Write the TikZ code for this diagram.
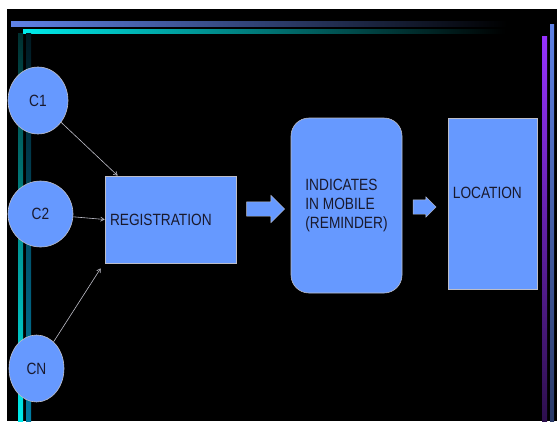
\documentclass[tikz,border=0pt]{standalone}
\usepackage{fontspec}
\setmainfont{Liberation Sans}[FakeStretch=0.84]
\usetikzlibrary{arrows,shapes.geometric,shapes.arrows}

\definecolor{boxblue}{RGB}{102,153,255}
\definecolor{edgegray}{RGB}{190,190,200}
\definecolor{inkblue}{RGB}{25,25,45}
\definecolor{barblue}{RGB}{95,130,230}
\definecolor{barcyan}{RGB}{0,235,235}
\definecolor{barpurple}{RGB}{150,50,255}
\definecolor{barteal}{RGB}{0,125,165}

\begin{document}
\begin{tikzpicture}[x=1pt,y=-1pt,
  client/.style={ellipse, draw=edgegray, fill=boxblue, line width=.6pt, inner sep=0pt,
    text=inkblue, font=\fontsize{16.3}{19}\selectfont},
  stage/.style={rectangle, draw=edgegray, fill=boxblue, line width=.6pt,
    text=inkblue, font=\fontsize{16.3}{19}\selectfont},
  link/.style={->, >=angle 60, draw=edgegray, line width=.6pt},
  blockarrow/.style={single arrow, fill=boxblue, draw=edgegray, line width=.4pt,
    inner sep=7pt, single arrow head indent=0pt}]
\useasboundingbox (0,0) rectangle (557,421);
\fill[black] (7,9) rectangle (557,421);

% frame bars
\shade[left color=barblue, right color=black] (11,21.5) rectangle (507,26);
\shade[left color=barcyan, right color=black] (23,29) rectangle (505,33);
\shade[top color=barblue, bottom color=barblue!45!black] (550,24) rectangle (554,421);
\shade[top color=barpurple, bottom color=barpurple!30!black] (542,36) rectangle (547,421);
\shade[top color=barcyan!20!black, bottom color=barcyan] (18,33) rectangle (23,421);
\shade[top color=barteal!20!black, bottom color=barteal] (26,33) rectangle (31,421);

% clients
\node[client, minimum width=60pt, minimum height=67pt] (c1) at (38,100.5) {C1};
\node[client, minimum width=65pt, minimum height=66pt] (c2) at (40.5,214) {C2};
\node[client, minimum width=55pt, minimum height=67pt] (cn) at (36.5,368.5) {CN};

% stages
\node[stage, minimum width=131pt, minimum height=87pt, inner sep=5pt,
  text width=121pt, align=left] (reg) at (170.5,219.5) {REGISTRATION};
\node[stage, rounded corners=18pt, minimum width=111pt, minimum height=175pt,
  align=left] (remind) at (346.5,205.5) {INDICATES\\IN MOBILE\\(REMINDER)};
\node[stage, minimum width=89pt, minimum height=171pt,
  label={[anchor=west, inner sep=0pt, xshift=5pt, yshift=10.5pt, text=inkblue,
    font=\fontsize{16.3}{19}\selectfont]west:LOCATION}] (loc) at (492.5,203.5) {};

\node[blockarrow, minimum height=38pt, single arrow head extend=6.5pt] (go1) at (262,209) {};
\node[blockarrow, minimum height=23pt, single arrow head extend=3pt] (go2) at (421,207) {};

% links
\draw[link] (c1) -- ([xshift=13pt]reg.north west);
\draw[link] (c2) -- (reg.west);
\draw[link] (cn) -- ([xshift=-4pt,yshift=-5pt]reg.south west);
\end{tikzpicture}
\end{document}
